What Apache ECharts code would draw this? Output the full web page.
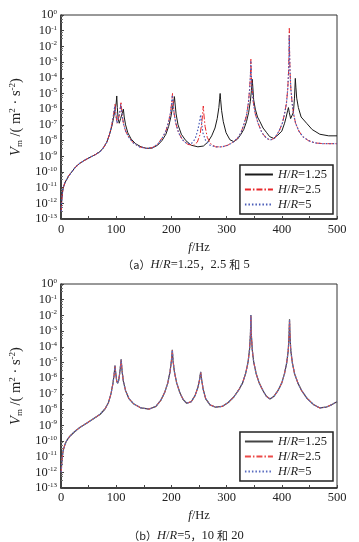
<!DOCTYPE html>
<html><head><meta charset="utf-8">
<script src="https://cdn.jsdelivr.net/npm/echarts@6/dist/echarts.min.js"></script>
<style>html,body{margin:0;padding:0;background:#fff;}#c1{width:359px;height:272px;}#c2{width:359px;height:270px;}</style>
</head><body><div id="c1"></div><div id="c2"></div>
<script>
// Data: [frequency f (Hz), log10 of V_m]
const seriesNames = ['H/R=1.25', 'H/R=2.5', 'H/R=5'];
const xTicks = [0, 100, 200, 300, 400, 500];
const yExpTicks = [0, -1, -2, -3, -4, -5, -6, -7, -8, -9, -10, -11, -12, -13];

const a_HR125 = [[0.5,-12.5],[1,-12.0],[2,-11.5],[4,-11.0],[7,-10.7],[10,-10.5],[14,-10.25],[19.4,-10.0],[26,-9.7],[34,-9.45],[43,-9.25],[52.5,-9.07],[62,-8.9],[70.6,-8.71],[77,-8.45],[83,-8.1],[88,-7.6],[92,-7.1],[95,-6.6],[98,-6.0],[100,-5.6],[101,-5.16],[102,-5.9],[103.5,-6.6],[105.5,-6.9],[108,-6.6],[110.5,-6.3],[113,-6.0],[114.5,-6.5],[117,-7.0],[121,-7.5],[127,-7.9],[135,-8.2],[145,-8.4],[155,-8.5],[165,-8.48],[175,-8.3],[183,-8.0],[190,-7.6],[195,-7.1],[199,-6.5],[202,-5.9],[204.5,-5.5],[205.5,-5.2],[206.5,-5.6],[208.5,-6.3],[212,-7.0],[218,-7.6],[226,-8.0],[236,-8.3],[248,-8.4],[258,-8.35],[266,-8.1],[273,-7.7],[279,-7.2],[283,-6.6],[286,-5.9],[287.5,-5.3],[288.3,-5.0],[289.2,-5.4],[291,-6.1],[294,-6.8],[299,-7.5],[306,-7.95],[313,-8.07],[320,-7.9],[326,-7.6],[331,-7.3],[336,-6.8],[340,-6.2],[343,-5.5],[345,-4.8],[346.5,-4.1],[347.5,-4.6],[349,-5.4],[352,-6.0],[356,-6.5],[360.5,-6.8],[366,-7.2],[372.6,-7.5],[378,-7.75],[385,-7.86],[393,-7.65],[400,-7.4],[405,-6.9],[408,-6.5],[410.5,-6.1],[412,-5.9],[413.5,-6.2],[416,-6.6],[418.5,-6.7],[421,-6.2],[423,-5.3],[424.5,-4.04],[425.5,-4.6],[427,-5.3],[430,-5.9],[435,-6.5],[445,-6.9],[455,-7.3],[469,-7.6],[485,-7.7],[500,-7.7]];

const a_HR25 = [[0.5,-12.5],[1,-12.0],[2,-11.5],[4,-11.0],[7,-10.7],[10,-10.5],[14,-10.25],[19.4,-10.0],[26,-9.7],[34,-9.45],[43,-9.25],[52.5,-9.07],[62,-8.9],[70.6,-8.71],[77,-8.45],[83,-8.1],[88,-7.6],[92,-7.0],[95,-6.4],[97.8,-5.7],[99.5,-6.3],[101.5,-6.9],[104,-6.9],[106.5,-6.3],[108.7,-5.53],[110.5,-6.3],[113,-6.9],[117,-7.4],[123,-7.8],[131,-8.15],[142,-8.4],[155,-8.5],[166,-8.45],[176,-8.2],[184,-7.8],[190,-7.4],[195,-6.8],[198.5,-6.2],[200.5,-5.6],[202,-5.0],[203.2,-5.6],[205,-6.3],[208,-6.9],[213,-7.5],[220,-7.95],[230,-8.25],[240,-8.3],[247,-8.1],[252,-7.6],[255,-6.9],[256.8,-6.2],[257.8,-5.8],[258.8,-6.3],[261,-7.1],[265,-7.8],[271,-8.2],[280,-8.4],[292,-8.4],[302,-8.3],[312,-8.1],[320,-7.85],[326,-7.5],[332,-6.9],[336,-6.4],[339.5,-5.6],[341.8,-4.7],[343.2,-3.8],[344,-2.82],[344.8,-3.8],[346.2,-4.7],[348.5,-5.6],[352,-6.3],[357,-6.9],[364,-7.5],[372,-7.85],[379,-7.97],[387,-7.85],[395,-7.4],[401,-6.9],[405,-6.3],[408.5,-5.6],[410.8,-4.7],[412.3,-3.6],[413.1,-2.4],[413.6,-0.85],[414.1,-2.4],[414.9,-3.6],[416.4,-4.7],[418.7,-5.6],[421,-6.25],[425,-6.9],[431,-7.4],[438,-7.75],[448,-8.0],[460,-8.15],[475,-8.2],[490,-8.2],[500,-8.2]];

const a_HR5 = [[0.5,-12.5],[1,-12.0],[2,-11.5],[4,-11.0],[7,-10.7],[10,-10.5],[14,-10.25],[19.4,-10.0],[26,-9.7],[34,-9.45],[43,-9.25],[52.5,-9.07],[62,-8.9],[70.6,-8.71],[77,-8.45],[83,-8.1],[88,-7.6],[92,-7.0],[95,-6.4],[97.5,-5.8],[99.5,-6.4],[101.5,-6.9],[104,-6.8],[106.3,-6.2],[108.3,-5.7],[110.3,-6.3],[113,-6.9],[117,-7.4],[123,-7.8],[131,-8.15],[142,-8.4],[155,-8.5],[166,-8.45],[176,-8.2],[184,-7.8],[190,-7.4],[195,-6.8],[198.5,-6.2],[200.5,-5.6],[201.8,-5.1],[203,-5.6],[205,-6.3],[208,-6.9],[213,-7.5],[220,-7.95],[228,-8.2],[236,-8.2],[243,-7.9],[248,-7.3],[251,-6.8],[253,-6.35],[254.5,-6.8],[257,-7.5],[262,-8.0],[270,-8.3],[280,-8.4],[292,-8.4],[302,-8.3],[312,-8.1],[320,-7.85],[326,-7.5],[332,-6.9],[336,-6.4],[339.5,-5.6],[341.8,-4.7],[343.2,-3.8],[344,-2.9],[344.8,-3.8],[346.2,-4.7],[348.5,-5.6],[352,-6.3],[357,-6.9],[364,-7.5],[372,-7.85],[379,-7.97],[387,-7.85],[395,-7.4],[401,-6.9],[405,-6.3],[408.5,-5.6],[410.8,-4.7],[412.3,-3.6],[413.1,-2.4],[413.5,-1.3],[414,-2.4],[414.9,-3.6],[416.4,-4.7],[418.7,-5.6],[421,-6.25],[425,-6.9],[431,-7.4],[438,-7.75],[448,-8.0],[460,-8.15],[475,-8.2],[490,-8.2],[500,-8.2]];

const b_HR125 = [[0.5,-12.0],[1,-11.6],[2,-11.1],[4,-10.6],[7,-10.25],[10,-10.0],[16,-9.7],[25,-9.4],[34,-9.15],[45,-8.9],[56,-8.65],[71,-8.3],[80,-7.95],[86,-7.55],[90.5,-7.0],[93.8,-6.4],[96.2,-5.8],[97.8,-5.2],[99.2,-5.7],[101,-6.2],[102.7,-6.33],[104.8,-6.1],[107,-5.5],[109,-4.8],[110.5,-5.5],[113,-6.2],[117,-6.8],[123,-7.3],[132,-7.65],[145,-7.9],[160,-7.97],[172,-7.8],[181,-7.4],[188,-6.9],[193.5,-6.3],[197.5,-5.6],[200,-4.9],[201.7,-4.2],[203,-4.9],[205.5,-5.6],[209.5,-6.3],[215,-6.9],[221,-7.35],[227.7,-7.6],[236,-7.5],[243,-7.1],[248,-6.6],[251,-6.1],[253,-5.6],[254.8,-6.1],[257.5,-6.7],[262,-7.3],[270,-7.7],[280,-7.85],[292,-7.8],[303,-7.55],[313,-7.2],[322,-6.75],[329,-6.3],[334.5,-5.7],[338.8,-5.0],[341.5,-4.2],[343.2,-3.2],[344,-1.98],[344.8,-3.2],[346.5,-4.2],[349.2,-5.0],[353.5,-5.7],[359,-6.3],[366,-6.8],[372,-7.15],[378.6,-7.33],[386,-7.15],[393,-6.8],[400,-6.3],[405,-5.7],[409,-5.0],[411.8,-4.2],[413.2,-3.2],[414,-2.25],[414.8,-3.2],[416.2,-4.2],[419,-5.0],[423,-5.7],[429,-6.3],[436,-6.8],[446,-7.3],[458,-7.7],[469,-7.9],[480,-7.85],[490,-7.7],[500,-7.5]];

const b_HR25 = [[0.5,-12.0],[1,-11.6],[2,-11.1],[4,-10.6],[7,-10.25],[10,-10.0],[16,-9.7],[25,-9.4],[34,-9.15],[45,-8.9],[56,-8.65],[71,-8.3],[80,-7.95],[86,-7.55],[90.5,-7.0],[93.8,-6.4],[96.2,-5.8],[97.8,-5.22],[99.2,-5.7],[101,-6.2],[102.7,-6.33],[104.8,-6.1],[107,-5.5],[109,-4.82],[110.5,-5.5],[113,-6.2],[117,-6.8],[123,-7.3],[132,-7.65],[145,-7.9],[160,-7.97],[172,-7.8],[181,-7.4],[188,-6.9],[193.5,-6.3],[197.5,-5.6],[200,-4.9],[201.7,-4.22],[203,-4.9],[205.5,-5.6],[209.5,-6.3],[215,-6.9],[221,-7.35],[227.7,-7.6],[236,-7.5],[243,-7.1],[248,-6.6],[251,-6.1],[253,-5.62],[254.8,-6.1],[257.5,-6.7],[262,-7.3],[270,-7.7],[280,-7.85],[292,-7.8],[303,-7.55],[313,-7.2],[322,-6.75],[329,-6.3],[334.5,-5.7],[338.8,-5.0],[341.5,-4.2],[343.2,-3.2],[344,-2.0],[344.8,-3.2],[346.5,-4.2],[349.2,-5.0],[353.5,-5.7],[359,-6.3],[366,-6.8],[372,-7.15],[378.6,-7.33],[386,-7.15],[393,-6.8],[400,-6.3],[405,-5.7],[409,-5.0],[411.8,-4.2],[413.2,-3.2],[414,-2.27],[414.8,-3.2],[416.2,-4.2],[419,-5.0],[423,-5.7],[429,-6.3],[436,-6.8],[446,-7.3],[458,-7.7],[469,-7.9],[480,-7.85],[490,-7.7],[500,-7.5]];

const b_HR5 = [[0.5,-12.0],[1,-11.6],[2,-11.1],[4,-10.6],[7,-10.25],[10,-10.0],[16,-9.7],[25,-9.4],[34,-9.15],[45,-8.9],[56,-8.65],[71,-8.3],[80,-7.95],[86,-7.55],[90.5,-7.0],[93.8,-6.4],[96.2,-5.8],[97.8,-5.21],[99.2,-5.7],[101,-6.2],[102.7,-6.33],[104.8,-6.1],[107,-5.5],[109,-4.81],[110.5,-5.5],[113,-6.2],[117,-6.8],[123,-7.3],[132,-7.65],[145,-7.9],[160,-7.97],[172,-7.8],[181,-7.4],[188,-6.9],[193.5,-6.3],[197.5,-5.6],[200,-4.9],[201.7,-4.21],[203,-4.9],[205.5,-5.6],[209.5,-6.3],[215,-6.9],[221,-7.35],[227.7,-7.6],[236,-7.5],[243,-7.1],[248,-6.6],[251,-6.1],[253,-5.61],[254.8,-6.1],[257.5,-6.7],[262,-7.3],[270,-7.7],[280,-7.85],[292,-7.8],[303,-7.55],[313,-7.2],[322,-6.75],[329,-6.3],[334.5,-5.7],[338.8,-5.0],[341.5,-4.2],[343.2,-3.2],[344,-1.99],[344.8,-3.2],[346.5,-4.2],[349.2,-5.0],[353.5,-5.7],[359,-6.3],[366,-6.8],[372,-7.15],[378.6,-7.33],[386,-7.15],[393,-6.8],[400,-6.3],[405,-5.7],[409,-5.0],[411.8,-4.2],[413.2,-3.2],[414,-2.26],[414.8,-3.2],[416.2,-4.2],[419,-5.0],[423,-5.7],[429,-6.3],[436,-6.8],[446,-7.3],[458,-7.7],[469,-7.9],[480,-7.85],[490,-7.7],[500,-7.5]];

const SERIF = "Liberation Serif";
const CJK = "Noto Sans CJK SC";

function toPoints(arr) { return arr.map(p => [p[0], Math.pow(10, p[1])]); }

function build(el, cfg) {
  const chart = echarts.init(document.getElementById(el), null, {renderer: 'canvas'});
  const styles = cfg.styles;
  const option = {
    animation: false,
    backgroundColor: '#fff',
    textStyle: {fontFamily: SERIF},
    grid: {left: 61, right: 22, top: cfg.top, bottom: cfg.bottom, show: true, borderColor: '#333', borderWidth: 1, backgroundColor: 'transparent'},
    xAxis: {
      type: 'value', min: xTicks[0], max: xTicks[xTicks.length - 1], interval: 100,
      axisLine: {lineStyle: {color: '#222', width: 1.5}},
      axisTick: {inside: true, length: 3, lineStyle: {color: '#444'}},
      minorTick: {show: true, splitNumber: 2, length: 3, lineStyle: {color: '#444'}},
      splitLine: {show: false}, minorSplitLine: {show: false},
      axisLabel: {margin: cfg.xLabelMargin, color: '#222', fontFamily: SERIF, fontSize: 12.5},
      name: '{i|f}{n|/Hz}', nameLocation: 'middle', nameGap: 21,
      nameTextStyle: {rich: {i: {fontFamily: SERIF, fontStyle: 'italic', fontSize: 12.5, color: '#222'}, n: {fontFamily: SERIF, fontSize: 12.5, color: '#222'}}}
    },
    yAxis: {
      type: 'log', logBase: 10, min: Math.pow(10, yExpTicks[yExpTicks.length - 1]), max: Math.pow(10, yExpTicks[0]),
      interval: 1, splitNumber: 13,
      axisLine: {lineStyle: {color: '#222', width: 1.5}},
      axisTick: {inside: true, length: 3, lineStyle: {color: '#444'}},
      minorTick: {show: true, splitNumber: 4, length: 2, lineStyle: {color: '#777'}},
      splitLine: {show: false}, minorSplitLine: {show: false},
      axisLabel: {
        margin: 4, color: '#222',
        formatter: v => '{b|10}{s|' + Math.round(Math.log10(v)) + '}',
        rich: {b: {fontFamily: SERIF, fontSize: 12.5, lineHeight: 13, color: '#222'}, s: {fontFamily: SERIF, fontSize: 7, lineHeight: 8, verticalAlign: 'top', color: '#222'}}
      },
      name: '{i|V}{sub|m}{n| /( m}{sup|2}{n| · s}{sup|-2}{n|)}', nameLocation: 'middle', nameGap: 30, nameRotate: 90,
      nameTextStyle: {rich: {
        i: {fontFamily: SERIF, fontStyle: 'italic', fontSize: 14.5, lineHeight: 16, color: '#222'},
        n: {fontFamily: SERIF, fontSize: 14.5, lineHeight: 16, color: '#222'},
        sub: {fontFamily: SERIF, fontSize: 9, lineHeight: 9, verticalAlign: 'bottom', color: '#222'},
        sup: {fontFamily: SERIF, fontSize: 9, lineHeight: 9, verticalAlign: 'top', color: '#222'}
      }}
    },
    legend: {
      orient: 'vertical', right: 26, top: cfg.legendTop,
      itemWidth: 28, itemHeight: 10, itemGap: 2, padding: [3, 6, 3, 4],
      borderColor: '#222', borderWidth: 1.5, backgroundColor: '#fff',
      data: seriesNames,
      itemStyle: {opacity: 0, borderWidth: 0},
      formatter: n => '{i|H}/{i|R}=' + n.split('=')[1],
      textStyle: {fontFamily: SERIF, fontSize: 12.5, color: '#222', lineHeight: 12,
        rich: {i: {fontFamily: SERIF, fontStyle: 'italic', fontSize: 12.5, color: '#222'}}}
    },
    graphic: [{
      type: 'text', x: 186, y: cfg.captionY,
      style: {text: cfg.caption, align: 'center', verticalAlign: 'middle', fill: '#222',
        rich: {
          c: {fontFamily: CJK, fontSize: 11, fill: '#222'},
          n: {fontFamily: SERIF, fontSize: 12.5, fill: '#222'},
          i: {fontFamily: SERIF, fontStyle: 'italic', fontSize: 12.5, fill: '#222'}
        }}
    }],
    series: cfg.data.map((d, k) => ({
      type: 'line', name: seriesNames[k], data: toPoints(d),
      showSymbol: false, symbol: 'none', smooth: false, z: 2 + k,
      lineStyle: {color: styles[k].color, width: styles[k].width, type: styles[k].type},
      itemStyle: {color: styles[k].color}
    }))
  };
  chart.setOption(option);
}

build('c1', {
  top: 15, bottom: 53, xLabelMargin: 4, legendTop: 165, captionY: 265,
  caption: '{c|（a）}{i|H}{n|/}{i|R}{n|=1.25}{c|，}{n|2.5 }{c|和}{n| 5}',
  data: [a_HR125, a_HR25, a_HR5],
  styles: [
    {color: '#1a1a1a', width: 1, type: 'solid'},
    {color: '#e8262a', width: 1, type: [6, 2, 1.5, 2]},
    {color: '#4a5cb8', width: 1.2, type: [1.5, 2]}
  ]
});
build('c2', {
  top: 12, bottom: 54, xLabelMargin: 3, legendTop: 160, captionY: 264,
  caption: '{c|（b）}{i|H}{n|/}{i|R}{n|=5}{c|，}{n|10 }{c|和}{n| 20}',
  data: [b_HR125, b_HR25, b_HR5],
  styles: [
    {color: '#444444', width: 1.2, type: 'solid'},
    {color: '#ec4a48', width: 1, type: [6, 2, 1.5, 2]},
    {color: '#5a6cc0', width: 1.2, type: [1.5, 2]}
  ]
});
</script></body></html>
